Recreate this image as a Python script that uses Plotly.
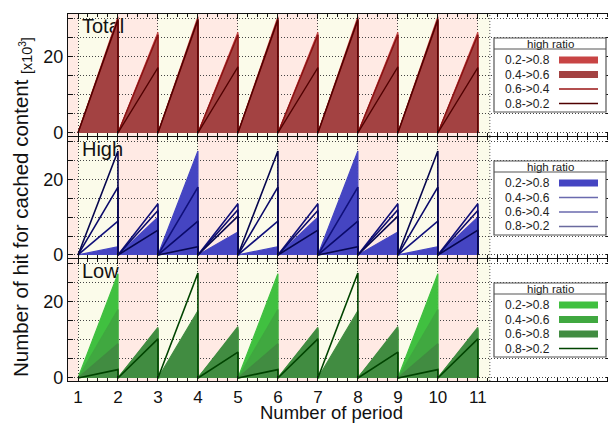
import plotly.graph_objects as go

# ---------------- data (x10^3 hits at the end of each period) ----------------
periods = [1, 2, 3, 4, 5, 6, 7, 8, 9, 10]          # period i runs from x=i to x=i+1
period_ticks = [1, 2, 3, 4, 5, 6, 7, 8, 9, 10, 11]
series_names = ["0.2->0.8", "0.4->0.6", "0.6->0.4", "0.8->0.2"]
low_names = ["0.2->0.8", "0.4->0.6", "0.6->0.8", "0.8->0.2"]

total_02_08 = [30.6, 26.5, 30.6, 26.5, 30.6, 26.5, 30.6, 26.5, 30.6, 26.5]
total_04_06 = [30.0, 26.0, 30.0, 26.0, 30.0, 26.0, 30.0, 26.0, 30.0, 26.0]
total_06_04 = [29.6, 25.8, 29.6, 25.8, 29.6, 25.8, 29.6, 25.8, 29.6, 25.8]
total_08_02 = [29.9, 17.2, 29.9, 17.4, 29.9, 17.2, 29.9, 17.4, 29.9, 17.2]

high_02_08 = [2.2, 10.0, 27.6, 6.1, 2.2, 10.0, 27.6, 6.1, 2.2, 10.0]
high_04_06 = [9.0, 13.6, 18.0, 13.6, 9.0, 13.6, 18.0, 13.6, 9.0, 13.6]
high_06_04 = [18.0, 11.8, 9.0, 12.0, 18.0, 11.8, 9.0, 12.0, 18.0, 11.8]
high_08_02 = [27.6, 6.6, 2.2, 10.3, 27.6, 6.6, 2.2, 10.3, 27.6, 6.6]

low_02_08 = [27.4, 12.6, 2.2, 12.6, 27.4, 12.6, 2.2, 12.6, 27.4, 12.6]
low_04_06 = [18.0, 13.0, 9.0, 13.0, 18.0, 13.0, 9.0, 13.0, 18.0, 13.0]
low_06_08 = [9.0, 13.3, 17.7, 13.5, 9.0, 13.3, 17.7, 13.5, 9.0, 13.3]
low_08_02 = [2.2, 10.3, 27.6, 6.8, 2.2, 10.3, 27.6, 6.8, 2.2, 10.3]

panel_labels = ["Total", "High", "Low"]
y_ticks = [0, 5, 10, 15, 20, 25, 30]
y_ticktext = ["0", "", "", "", "20", "", ""]

# ---------------- helpers ----------------
FONT = "Liberation Sans, Arial, Helvetica, sans-serif"
PINK = "#FFEAE4"
YELLOW = "#FBFBEA"


def sawtooth(vals):
    xs, ys = [periods[0]], [0]
    for p, v in zip(periods, vals):
        xs += [p + 1, p + 1]
        ys += [v, 0]
    return xs, ys


fig = go.Figure()

# panel definitions: (xaxis id, yaxis id, domain)
panels = [("x3", "y3", [0.6676, 1.0]), ("x2", "y2", [0.3352, 0.6649]), ("x", "y", [0.0, 0.3324])]

# panel label text (drawn first so the marks cover it)
for (xa, ya, dom), lab in zip(panels, panel_labels):
    fig.add_trace(go.Scatter(x=[1.1], y=[27.6], text=[lab], mode="text", textposition="middle right",
                             textfont=dict(size=20, color="#111", family=FONT),
                             xaxis=xa, yaxis=ya, showlegend=False, hoverinfo="skip"))


def add_fill(vals, color, xa, ya):
    xs, ys = sawtooth(vals)
    fig.add_trace(go.Scatter(x=xs, y=ys, mode="lines", fill="tozeroy", fillcolor=color,
                             line=dict(color=color, width=1.2), xaxis=xa, yaxis=ya,
                             showlegend=False, hoverinfo="skip"))


def add_line(vals, color, xa, ya, width=1.6):
    xs, ys = sawtooth(vals)
    fig.add_trace(go.Scatter(x=xs, y=ys, mode="lines", line=dict(color=color, width=width),
                             xaxis=xa, yaxis=ya, showlegend=False, hoverinfo="skip"))


# Total
add_fill(total_02_08, "#C84444", "x3", "y3")
add_fill(total_04_06, "#A34242", "x3", "y3")
add_line(total_06_04, "#8A1010", "x3", "y3", 1.3)
add_line(total_08_02, "#500000", "x3", "y3", 1.3)
# High
add_fill(high_02_08, "#4545C2", "x2", "y2")
add_line(high_04_06, "#10107A", "x2", "y2")
add_line(high_06_04, "#0A0A6A", "x2", "y2")
add_line(high_08_02, "#06064E", "x2", "y2")
# Low
add_fill(low_02_08, "#40C040", "x", "y")
add_fill(low_04_06, "#40A840", "x", "y")
add_fill(low_06_08, "#418C41", "x", "y")
add_line(low_08_02, "#004400", "x", "y")

# ---------------- backgrounds ----------------
shapes = []
bands = [(0.75, 1, PINK)]
for p in periods:
    bands.append((p, p + 1, YELLOW if p % 2 == 1 else PINK))
bands.append((11, 11.3, YELLOW))
for xa, ya, dom in panels:
    for x0, x1, c in bands:
        shapes.append(dict(type="rect", xref=xa, yref=f"{ya} domain", x0=x0, x1=x1, y0=0, y1=1,
                           fillcolor=c, line=dict(width=0), layer="below"))
    shapes.append(dict(type="line", xref=xa, yref=f"{ya} domain", x0=11.3, x1=11.3, y0=0, y1=1,
                       line=dict(color="#555", width=1, dash="1px,2px"), layer="below"))

# ---------------- layout geometry (page pixels; page body has an 8px margin) ----------------
OFF = 8
W, H = 616 - OFF, 424 - OFF
L, R, T, B = 68, 611, 14, 381


def px(x):
    return (x - L) / (R - L)


def py(y):
    return (B - y) / (B - T)


annotations = []
legend_specs = [
    (14, series_names, [("fill", "#C84444"), ("fill", "#A34242"), ("line", "#9A1515"), ("line", "#500000")]),
    (137, series_names, [("fill", "#4545C2"), ("line", "#6A6AAE"), ("line", "#6A6AAE"), ("line", "#6A6A9E")]),
    (259, low_names, [("fill", "#40C040"), ("fill", "#40A840"), ("fill", "#418C41"), ("line", "#004400")]),
]
for top, names, styles in legend_specs:
    bx0, bx1 = 494, 606
    by0, by1 = top + 24, top + 98
    shapes.append(dict(type="rect", xref="paper", yref="paper", x0=px(bx0), x1=px(bx1), y0=py(by1), y1=py(by0),
                       fillcolor="white", line=dict(color="#555", width=1.2), layer="above"))
    shapes.append(dict(type="line", xref="paper", yref="paper", x0=px(bx0), x1=px(bx1), y0=py(by0 + 11), y1=py(by0 + 11),
                       line=dict(color="#555", width=1.2), layer="above"))
    annotations.append(dict(xref="paper", yref="paper", x=px(550), y=py(by0 + 5.5), text="high ratio",
                            showarrow=False, xanchor="center", yanchor="middle",
                            font=dict(size=11.5, color="#222", family=FONT)))
    for k, (nm, (kind, col)) in enumerate(zip(names, styles)):
        ry = by0 + 22 + k * 14.5
        annotations.append(dict(xref="paper", yref="paper", x=px(552), y=py(ry), text=nm, showarrow=False,
                                xanchor="right", yanchor="middle",
                                font=dict(size=12, color="#222", family=FONT)))
        if kind == "fill":
            shapes.append(dict(type="rect", xref="paper", yref="paper", x0=px(559), x1=px(598),
                               y0=py(ry + 3.5), y1=py(ry - 3.5), fillcolor=col, line=dict(width=0), layer="above"))
        else:
            shapes.append(dict(type="line", xref="paper", yref="paper", x0=px(559), x1=px(598),
                               y0=py(ry), y1=py(ry), line=dict(color=col, width=1.4), layer="above"))

# axis titles as annotations
annotations.append(dict(xref="paper", yref="paper", x=px(22), y=py(207),
                        text="Number of hit for cached content <sub>[x10<sup>3</sup>]</sub>",
                        textangle=-90, showarrow=False, xanchor="center", yanchor="middle",
                        font=dict(size=20.5, color="#111", family=FONT)))
annotations.append(dict(xref="paper", yref="paper", x=px(331), y=py(412.5),
                        text="Number of period", showarrow=False, xanchor="center", yanchor="middle",
                        font=dict(size=18.5, color="#111", family=FONT)))

# ---------------- axes ----------------
GRID = dict(showgrid=True, gridcolor="#444", griddash="1px,2px", gridwidth=1, zeroline=False)
xcommon = dict(range=[0.75, 14.33], tickvals=period_ticks, ticks="inside", ticklen=5, tickcolor="#111",
               showline=True, linecolor="#111", linewidth=1.2, mirror="ticks", automargin=False,
               minor=dict(dtick=0.25, ticks="inside", ticklen=3, tickcolor="#111", showgrid=False), **GRID)
ycommon = dict(range=[-0.8, 31.3], tickvals=y_ticks, ticktext=y_ticktext, ticks="inside", ticklen=5,
               tickcolor="#111", showline=True, linecolor="#111", linewidth=1.2, mirror="ticks",
               automargin=False, tickfont=dict(size=18, color="#111", family=FONT), **GRID)

fig.update_layout(
    width=W, height=H,
    margin=dict(l=L - OFF, r=W - (R - OFF), t=T - OFF, b=H - (B - OFF), autoexpand=False),
    paper_bgcolor="white", plot_bgcolor="white",
    showlegend=False,
    font=dict(family=FONT, color="#111"),
    xaxis=dict(xcommon, anchor="y", tickfont=dict(size=17, color="#111", family=FONT)),
    xaxis2=dict(xcommon, anchor="y2", matches="x", showticklabels=False),
    xaxis3=dict(xcommon, anchor="y3", matches="x", showticklabels=False),
    yaxis=dict(ycommon, domain=panels[2][2], anchor="x"),
    yaxis2=dict(ycommon, domain=panels[1][2], anchor="x2"),
    yaxis3=dict(ycommon, domain=panels[0][2], anchor="x3"),
    shapes=shapes,
    annotations=annotations,
)

fig.write_html("out.html")
